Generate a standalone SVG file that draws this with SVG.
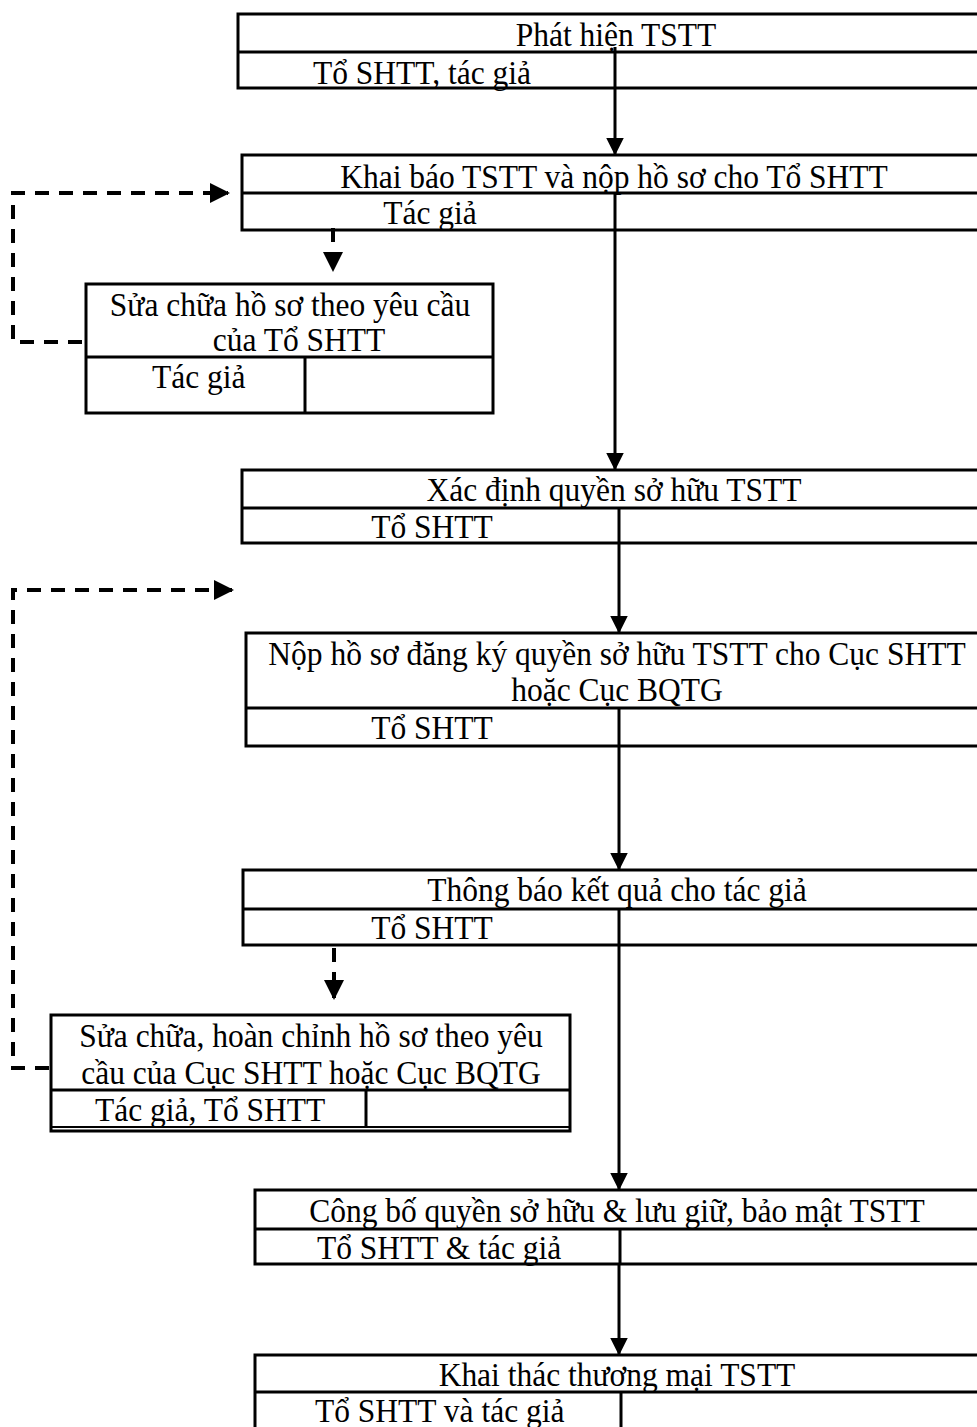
<svg xmlns="http://www.w3.org/2000/svg" width="977" height="1427" viewBox="0 0 977 1427">
<defs>
<style>
.box{fill:#fff;stroke:#000;stroke-width:3}
.ln{stroke:#000;stroke-width:3;fill:none}
.arr{stroke:#000;stroke-width:3;fill:none;marker-end:url(#ah)}
.dash{stroke:#000;stroke-width:4;fill:none;stroke-dasharray:14 10}
.t{font-family:"Liberation Serif","Times New Roman",serif;font-size:31.5px;fill:#000}
.c{text-anchor:middle}
</style>
<marker id="ah" markerWidth="6" markerHeight="6" refX="5.5" refY="3" orient="auto" markerUnits="strokeWidth">
<path d="M0,0 L6,3 L0,6 z" fill="#000"/>
</marker>
<marker id="ahd" markerWidth="5" markerHeight="5" refX="4.5" refY="2.5" orient="auto" markerUnits="strokeWidth">
<path d="M0,0 L5,2.5 L0,5 z" fill="#000"/>
</marker>
</defs>
<rect width="977" height="1427" fill="#fff"/>

<g id="n1">
<rect class="box" x="238" y="14" width="760" height="74"/>
<line class="ln" x1="238" y1="52" x2="998" y2="52"/>
<text class="t c" x="616" transform="translate(0,46) scale(1,1.07)">Phát hiện TSTT</text>
<text class="t" x="313" transform="translate(0,84) scale(1,1.07)">Tổ SHTT, tác giả</text>
</g>

<g id="n2">
<rect class="box" x="242" y="155" width="760" height="75"/>
<line class="ln" x1="242" y1="193" x2="1002" y2="193"/>
<line class="ln" x1="615" y1="193" x2="615" y2="230"/>
<text class="t c" x="614" transform="translate(0,188) scale(1,1.07)">Khai báo TSTT và nộp hồ sơ cho Tổ SHTT</text>
<text class="t c" x="430" transform="translate(0,224) scale(1,1.07)">Tác giả</text>
</g>

<g id="n3">
<rect class="box" x="86" y="284" width="407" height="129"/>
<line class="ln" x1="86" y1="357" x2="493" y2="357"/>
<line class="ln" x1="305" y1="357" x2="305" y2="413"/>
<text class="t c" x="290" transform="translate(0,316) scale(1,1.07)">Sửa chữa hồ sơ theo yêu cầu</text>
<text class="t c" x="299" transform="translate(0,351) scale(1,1.07)">của Tổ SHTT</text>
<text class="t" x="152" transform="translate(0,388) scale(1,1.07)">Tác giả</text>
</g>

<g id="n4">
<rect class="box" x="242" y="470" width="760" height="73"/>
<line class="ln" x1="242" y1="508" x2="1002" y2="508"/>
<line class="ln" x1="619" y1="508" x2="619" y2="543"/>
<text class="t c" x="614" transform="translate(0,501) scale(1,1.07)">Xác định quyền sở hữu TSTT</text>
<text class="t c" x="432" transform="translate(0,538) scale(1,1.07)">Tổ SHTT</text>
</g>

<g id="n5">
<rect class="box" x="246" y="633" width="760" height="113"/>
<line class="ln" x1="246" y1="708" x2="1006" y2="708"/>
<line class="ln" x1="619" y1="708" x2="619" y2="746"/>
<text class="t c" x="617" transform="translate(0,665) scale(1,1.07)">Nộp hồ sơ đăng ký quyền sở hữu TSTT cho Cục SHTT</text>
<text class="t c" x="617" transform="translate(0,701) scale(1,1.07)">hoặc Cục BQTG</text>
<text class="t c" x="432" transform="translate(0,739) scale(1,1.07)">Tổ SHTT</text>
</g>

<g id="n6">
<rect class="box" x="243" y="870" width="760" height="75"/>
<line class="ln" x1="243" y1="909" x2="1003" y2="909"/>
<line class="ln" x1="619" y1="909" x2="619" y2="945"/>
<text class="t c" x="617" transform="translate(0,901) scale(1,1.07)">Thông báo kết quả cho tác giả</text>
<text class="t c" x="432" transform="translate(0,939) scale(1,1.07)">Tổ SHTT</text>
</g>

<g id="n7">
<rect class="box" x="51" y="1015" width="519" height="116"/>
<line class="ln" x1="51" y1="1090" x2="570" y2="1090"/>
<line class="ln" x1="366" y1="1090" x2="366" y2="1127"/>
<line class="ln" x1="51" y1="1127" x2="570" y2="1127" style="stroke-width:2"/>
<text class="t c" x="311" transform="translate(0,1047) scale(1,1.07)">Sửa chữa, hoàn chỉnh hồ sơ theo yêu</text>
<text class="t c" x="311" transform="translate(0,1084) scale(1,1.07)">cầu của Cục SHTT hoặc Cục BQTG</text>
<text class="t" x="95" transform="translate(0,1121) scale(1,1.07)">Tác giả, Tổ SHTT</text>
</g>

<g id="n8">
<rect class="box" x="255" y="1190" width="760" height="74"/>
<line class="ln" x1="255" y1="1229" x2="1015" y2="1229"/>
<line class="ln" x1="620" y1="1229" x2="620" y2="1264"/>
<text class="t c" x="617" transform="translate(0,1222) scale(1,1.07)">Công bố quyền sở hữu &amp; lưu giữ, bảo mật TSTT</text>
<text class="t" x="317" transform="translate(0,1259) scale(1,1.07)">Tổ SHTT &amp; tác giả</text>
</g>

<g id="n9">
<rect class="box" x="255" y="1355" width="760" height="90"/>
<line class="ln" x1="255" y1="1392" x2="1015" y2="1392"/>
<line class="ln" x1="621" y1="1392" x2="621" y2="1427"/>
<text class="t c" x="617" transform="translate(0,1386) scale(1,1.07)">Khai thác thương mại TSTT</text>
<text class="t" x="315" transform="translate(0,1422) scale(1,1.07)">Tổ SHTT và tác giả</text>
</g>

<g id="connectors">
<line class="arr" x1="615" y1="47" x2="615" y2="154"/>
<line class="arr" x1="615" y1="230" x2="615" y2="469"/>
<line class="arr" x1="619" y1="543" x2="619" y2="632"/>
<line class="arr" x1="619" y1="746" x2="619" y2="869"/>
<line class="arr" x1="619" y1="945" x2="619" y2="1189"/>
<line class="arr" x1="619" y1="1264" x2="619" y2="1354"/>
<path class="dash" d="M333,228 V270" marker-end="url(#ahd)"/>
<path class="dash" d="M82,342 H13 V193 H228" marker-end="url(#ahd)"/>
<path class="dash" d="M334,948 V998" marker-end="url(#ahd)"/>
<path class="dash" d="M49,1068 H13 V590 H232" marker-end="url(#ahd)"/>
</g>
</svg>
